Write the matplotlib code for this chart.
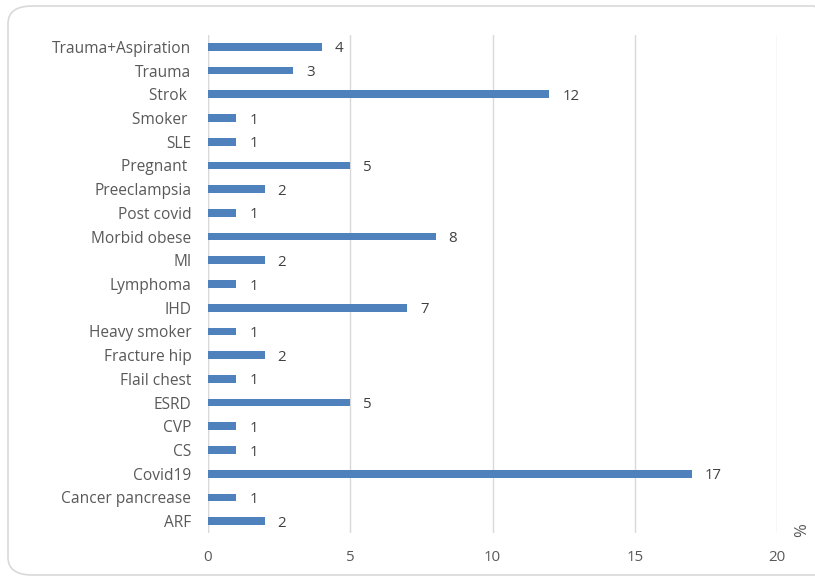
import matplotlib
matplotlib.use("Agg")
import matplotlib.pyplot as plt
from matplotlib.patches import FancyBboxPatch

categories = ["ARF", "Cancer pancrease", "Covid19", "CS", "CVP", "ESRD", "Flail chest",
              "Fracture hip", "Heavy smoker", "IHD", "Lymphoma", "MI", "Morbid obese",
              "Post covid", "Preeclampsia", "Pregnant ", "SLE", "Smoker ", "Strok ",
              "Trauma", "Trauma+Aspiration"]
values = [2, 1, 17, 1, 1, 5, 1, 2, 1, 7, 1, 2, 8, 1, 2, 5, 1, 1, 12, 3, 4]
xticks = [0, 5, 10, 15, 20]

plt.rcParams['font.family'] = ['Open Sans', 'DejaVu Sans']

fig = plt.figure(figsize=(8.15, 5.83), dpi=100)
W, H = 815, 583

# rounded border
border = FancyBboxPatch((8 / W, 8 / H), 830 / W, (577 - 8) / H,
                        boxstyle="round,pad=0,rounding_size=0.03",
                        transform=fig.transFigure, facecolor="none",
                        edgecolor="#D9D9D9", linewidth=1.2, zorder=-5)
fig.patches.append(border)

ax = fig.add_axes([208 / W, 1 - 533 / H, (777 - 208) / W, (533 - 35) / H])
ax.set_facecolor("none")

y = list(range(len(categories)))
ax.barh(y, values, height=0.33, color="#4F81BD", zorder=3)
for yi, v in zip(y, values):
    ax.text(v + 0.45, yi, str(v), va="center_baseline", ha="left", fontsize=10.8,
            color="#404040")

ax.set_xlim(0, 20)
ax.set_ylim(-0.5, len(categories) - 0.5)
ax.set_yticks(y)
ax.set_yticklabels(categories, fontsize=11.2, color="#595959")
ax.set_xticks(xticks)
ax.set_xticklabels([str(t) for t in xticks], fontsize=10.8, color="#595959")
ax.tick_params(axis="both", length=0)
ax.tick_params(axis="x", pad=12)
ax.tick_params(axis="y", pad=12)
for lbl in ax.get_yticklabels():
    lbl.set_verticalalignment("center_baseline")
ax.grid(axis="x", color="#D9D9D9", linewidth=1, zorder=0)
for s in ax.spines.values():
    s.set_visible(False)
ax.axvline(0, color="#D9D9D9", linewidth=1, zorder=1)

fig.text(802 / W, 1 - 530 / H, "%", rotation=90, fontsize=12, color="#595959",
         ha="center", va="center")

fig.savefig("out.png", dpi=100)
